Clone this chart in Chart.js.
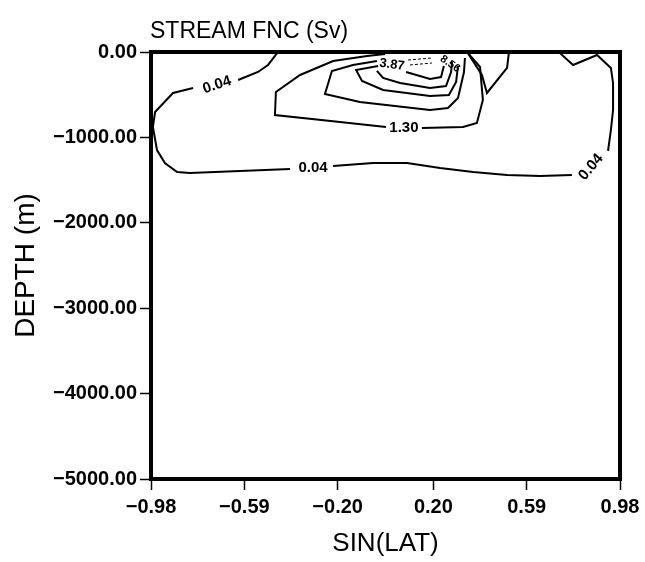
<!DOCTYPE html>
<html><head><meta charset="utf-8">
<script src="https://cdn.jsdelivr.net/npm/chart.js@4/dist/chart.umd.min.js"></script>
<style>html,body{margin:0;padding:0;background:#fff}</style>
</head><body>
<canvas id="c" width="645" height="562"></canvas>
<script>
// ---- text ----
const titleText = 'STREAM FNC (Sv)';
const xAxisTitle = 'SIN(LAT)';
const yAxisTitle = 'DEPTH (m)';
// ---- tick values ----
const xTickValues = [-0.98, -0.59, -0.20, 0.20, 0.59, 0.98];
const yTickValues = [0, -1000, -2000, -3000, -4000, -5000];
// ---- contour polylines (sin(lat), depth m); null = break for a label ----
const c004x = [-0.449, -0.491, -0.533, -0.616, null, -0.804, -0.888, -0.963, -0.972, -0.955, -0.922, -0.871, -0.817, -0.399, null, -0.219, -0.052, 0.090, 0.228, 0.366, 0.508, 0.646, 0.779, null, 0.930, 0.942, 0.951, 0.951, 0.942, 0.884, 0.784, 0.729, 0.717];
const c004y = [0, -152, -234, -328, null, -422, -480, -703, -878, -1148, -1300, -1405, -1417, -1370, null, -1335, -1300, -1300, -1358, -1405, -1440, -1452, -1440, null, -1159, -913, -679, -363, -187, -35, -152, -12, 0];
const c004bx = [0.341, 0.403, 0.424, 0.508, 0.516];
const c004by = [0, -269, -480, -187, 0];
const c130x = [-0.002, -0.077, -0.219, -0.357, -0.458, -0.462, -0.190, 0.002, null, 0.152, 0.324, 0.382, 0.407, 0.395, 0.345];
const c130y = [-23, -47, -105, -269, -468, -738, -820, -878, null, -890, -878, -831, -562, -176, -12];
const c257x = [-0.036, -0.136, -0.224, -0.253, -0.107, 0.186, 0.261, 0.303, 0.328, 0.332];
const c257y = [-105, -152, -222, -492, -585, -679, -656, -539, -234, -70];
const c387x = [-0.031, -0.123, -0.098, -0.010, 0.186, 0.265, 0.295, 0.303];
const c387y = [-164, -211, -340, -445, -515, -504, -351, -164];
const c516x = [-0.036, -0.010, 0.061, 0.186, 0.253, 0.274, 0.278];
const c516y = [-222, -304, -363, -422, -398, -234, -117];
const c645x = [0.086, 0.186, 0.232, 0.244];
const c645y = [-234, -316, -293, -164];
const cNeg1x = [0.094, 0.194];
const cNeg1y = [-94, -70];
const cNeg2x = [0.102, 0.194];
const cNeg2y = [-152, -129];
// ---- contour labels ----
const labelText  = ['0.04', '0.04', '0.04', '1.30', '3.87', '8.56'];
const labelX     = [-0.704, -0.303, 0.859, 0.077, 0.027, 0.270];
const labelY     = [-386, -1358, -1347, -890, -150, -140];
const labelAngle = [-18, 0, -50, 0, 8, 35];
const labelSize  = [15, 15, 15, 15, 13, 11];

function segments(xs, ys) {
  const out = []; let cur = [];
  for (let i = 0; i < xs.length; i++) {
    if (xs[i] === null) { if (cur.length) out.push(cur); cur = []; }
    else cur.push({x: xs[i], y: ys[i]});
  }
  if (cur.length) out.push(cur);
  return out;
}
const solid = [[c004x,c004y],[c004bx,c004by],[c130x,c130y],[c257x,c257y],[c387x,c387y],[c516x,c516y],[c645x,c645y]];
const dashed = [[cNeg1x,cNeg1y],[cNeg2x,cNeg2y]];
const datasets = [];
solid.forEach(([xs,ys]) => segments(xs,ys).forEach(seg => datasets.push({
  data: seg, showLine: true, borderColor: '#000', borderWidth: 2, pointRadius: 0, tension: 0, fill: false
})));
dashed.forEach(([xs,ys]) => segments(xs,ys).forEach(seg => datasets.push({
  data: seg, showLine: true, borderColor: '#000', borderWidth: 1, borderDash: [3,2], pointRadius: 0, tension: 0, fill: false
})));

const fmt = v => (Math.abs(v) < 1e-9 ? '0.00' : (v < 0 ? '\u2212' : '') + Math.abs(v).toFixed(2));

const decor = {
  id: 'decor',
  afterDatasetsDraw(chart) {
    const {ctx, chartArea: a, scales: {x, y}} = chart;
    ctx.save();
    ctx.fillStyle = '#000';
    ctx.textAlign = 'center'; ctx.textBaseline = 'middle';
    for (let i = 0; i < labelText.length; i++) {
      const px = x.getPixelForValue(labelX[i]), py = y.getPixelForValue(labelY[i]);
      ctx.save();
      ctx.translate(px, py); ctx.rotate(labelAngle[i] * Math.PI / 180);
      ctx.font = 'bold ' + labelSize[i] + 'px "Liberation Sans"';
      ctx.fillText(labelText[i], 0, 0);
      ctx.restore();
    }
    ctx.strokeStyle = '#000'; ctx.lineWidth = 4;
    ctx.strokeRect(a.left, a.top, a.right - a.left, a.bottom - a.top);
    ctx.font = '23px "Liberation Sans"';
    ctx.textAlign = 'left'; ctx.textBaseline = 'alphabetic';
    ctx.fillText(titleText, 150, 38);
    ctx.restore();
  }
};

new Chart(document.getElementById('c'), {
  type: 'scatter',
  data: { datasets },
  plugins: [decor],
  options: {
    responsive: false, animation: false, devicePixelRatio: 1,
    layout: { padding: { top: 52, right: 25, left: 0, bottom: 0 } },
    plugins: { legend: { display: false }, tooltip: { enabled: false }, title: { display: false } },
    scales: {
      x: {
        type: 'linear', min: -0.98, max: 0.98,
        afterBuildTicks: s => { s.ticks = xTickValues.map(v => ({ value: v })); },
        afterFit: s => { s.height = 83; },
        border: { display: false },
        grid: { drawOnChartArea: false, drawTicks: true, tickLength: 11, tickColor: '#000', tickWidth: 1.5 },
        ticks: { color: '#000', padding: 5, autoSkip: false, maxRotation: 0, font: { family: 'Liberation Sans', size: 20, weight: 'bold' }, callback: v => fmt(v) },
        title: { display: true, text: xAxisTitle, color: '#000', font: { family: 'Liberation Sans', size: 26 }, padding: { top: 0, bottom: 3 } }
      },
      y: {
        type: 'linear', min: -5000, max: 0,
        afterBuildTicks: s => { s.ticks = yTickValues.map(v => ({ value: v })); },
        afterFit: s => { s.width = 151; },
        border: { display: false },
        grid: { drawOnChartArea: false, drawTicks: true, tickLength: 11, tickColor: '#000', tickWidth: 1.5 },
        ticks: { color: '#000', padding: 3, font: { family: 'Liberation Sans', size: 20, weight: 'bold' }, callback: v => fmt(v) },
        title: { display: true, text: yAxisTitle, color: '#000', font: { family: 'Liberation Sans', size: 28 }, padding: { top: 9, bottom: 0 } }
      }
    }
  }
});
</script>
</body></html>
